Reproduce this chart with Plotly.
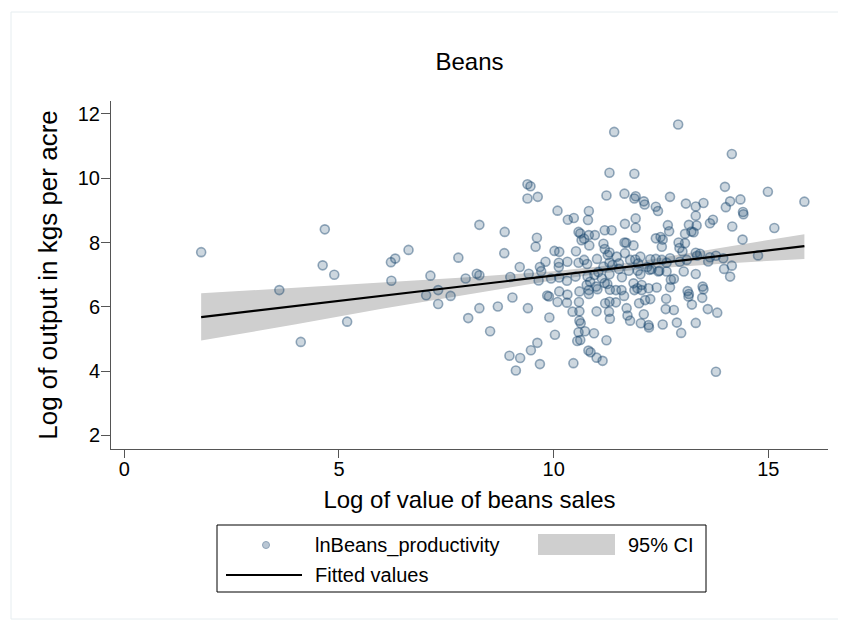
import plotly.graph_objects as go

# ---------------- data ----------------
x_vals = [
    1.79, 3.61, 4.11, 4.67, 4.62, 4.89, 5.19, 6.21, 6.31, 6.22, 6.62, 7.13, 7.03, 7.31, 7.31, 7.60,
    7.78, 7.95, 8.01, 8.21, 8.27, 8.27, 8.27,
    12.90, 11.41, 14.15, 11.30, 11.88, 9.39, 9.46, 13.99, 14.99, 15.84, 9.39, 9.63, 11.23, 11.65,
    11.91, 11.88, 12.10, 12.12, 12.71, 12.38, 12.43, 13.08, 13.31, 13.49, 14.11, 14.01, 14.35, 14.41,
    14.42, 10.09, 10.82, 10.33, 10.47, 10.80, 11.91, 8.86, 11.66, 11.91, 12.66, 13.31, 13.71, 13.64,
    13.15, 13.33, 14.16, 15.14, 10.58, 10.62, 11.19, 11.35, 9.61, 10.71, 10.96, 10.82, 12.69, 12.38,
    12.49, 12.54, 13.06, 13.26, 13.21, 14.40, 9.58, 8.85, 10.65, 11.16, 11.19, 11.30, 11.26, 11.65,
    11.69, 11.86, 10.83, 12.52, 12.91, 13.06, 13.00, 12.93, 10.02, 10.13, 10.52, 13.31, 13.34, 13.64,
    13.78, 14.76, 9.21, 9.81, 9.68, 9.71, 10.12, 10.12, 10.32, 10.58, 10.71, 10.78, 11.01, 11.30,
    11.37, 11.78, 11.90, 12.02, 12.25, 12.38, 12.52, 12.63, 12.18, 12.28, 12.46, 13.03, 13.31, 13.97,
    14.15, 14.11, 8.99, 9.42, 9.65, 9.94, 10.13, 10.31, 10.51, 10.79, 10.95, 11.19, 11.30, 11.52,
    11.75, 11.96, 12.02, 12.23, 12.44, 12.73, 12.80, 12.71, 9.04, 8.70, 9.40, 8.52, 9.90, 10.03,
    9.62, 9.47, 8.97, 9.22, 9.12, 9.68, 10.46, 10.62, 10.55, 10.94, 11.23, 10.81, 10.86, 11.00,
    11.14, 10.09, 10.13, 10.32, 9.85, 9.89, 10.31, 10.59, 10.60, 10.60, 10.60, 10.63, 10.58, 10.73,
    10.82, 10.82, 11.02, 10.99, 11.00, 11.20, 11.30, 11.45, 11.29, 11.31, 11.25, 11.45, 11.58, 11.70,
    11.72, 11.78, 12.03, 12.10, 12.21, 12.22, 11.64, 11.86, 11.88, 11.95, 12.05, 12.13, 12.25, 11.99,
    12.40, 12.62, 12.61, 12.80, 12.54, 12.87, 12.97, 13.31, 13.12, 13.15, 13.14, 13.22, 13.47, 13.49,
    13.46, 13.59, 13.81, 13.78, 10.44,
    10.77, 11.31, 12.05, 12.21, 11.04, 11.12, 10.85, 11.59, 11.52, 11.16, 11.66, 11.97, 12.63,
    11.47, 12.71, 12.94, 13.10, 13.95, 13.60, 13.41,
]
y_vals = [
    7.70, 6.52, 4.91, 8.41, 7.29, 7.00, 5.54, 7.39, 7.50, 6.81, 7.77, 6.97, 6.36, 6.52, 6.09, 6.34,
    7.53, 6.88, 5.65, 7.03, 6.98, 8.55, 5.96,
    11.67, 11.44, 10.75, 10.17, 10.14, 9.81, 9.75, 9.73, 9.58, 9.27, 9.37, 9.42, 9.46, 9.52,
    9.44, 9.37, 9.28, 9.18, 9.42, 9.11, 8.98, 9.21, 9.12, 9.23, 9.28, 9.10, 9.34, 8.95,
    8.88, 8.99, 8.98, 8.71, 8.76, 8.70, 8.75, 8.33, 8.58, 8.46, 8.54, 8.83, 8.71, 8.60,
    8.55, 8.53, 8.50, 8.45, 8.33, 8.28, 8.38, 8.38, 8.15, 8.12, 8.23, 8.23, 8.35, 8.13,
    8.17, 8.09, 8.27, 8.32, 8.34, 8.09, 7.87, 7.67, 8.07, 7.96, 7.80, 7.69, 7.61, 8.00,
    7.99, 7.91, 7.91, 7.87, 8.00, 7.98, 7.72, 7.83, 7.74, 7.71, 7.73, 7.68, 7.59, 7.54,
    7.59, 7.60, 7.24, 7.40, 7.24, 7.11, 7.37, 7.24, 7.40, 7.37, 7.46, 7.33, 7.49, 7.37,
    7.30, 7.46, 7.47, 7.56, 7.48, 7.49, 7.46, 7.37, 7.24, 7.17, 7.12, 7.10, 7.02, 7.18,
    7.28, 6.94, 6.93, 7.03, 6.82, 6.88, 6.91, 6.81, 6.94, 6.94, 6.99, 6.74, 7.01, 7.18,
    7.12, 7.12, 7.01, 7.15, 7.10, 6.84, 6.87, 6.61, 6.29, 6.01, 5.96, 5.24, 5.67, 5.13,
    4.88, 4.65, 4.48, 4.41, 4.02, 4.22, 4.25, 4.97, 4.94, 5.18, 4.96, 4.64, 4.59, 4.42,
    4.32, 6.15, 6.48, 6.38, 6.35, 6.32, 6.13, 6.15, 6.48, 5.86, 5.57, 5.49, 5.21, 5.24,
    6.40, 6.52, 6.55, 6.63, 5.86, 6.11, 6.16, 6.14, 5.85, 5.63, 6.71, 6.52, 6.52, 5.96,
    5.73, 5.57, 5.49, 5.77, 5.43, 5.36, 6.34, 6.73, 6.52, 6.58, 6.52, 6.21, 6.24, 6.11,
    6.60, 6.25, 5.93, 5.90, 5.45, 5.51, 5.19, 5.50, 6.49, 6.40, 6.32, 6.07, 6.63, 6.55,
    6.28, 5.93, 5.82, 3.98, 5.85,
    6.68, 6.53, 6.68, 6.58, 7.08, 6.89, 6.78, 6.92, 7.35, 7.25, 7.67, 7.35, 7.10,
    7.56, 7.51, 7.40, 7.46, 7.51, 7.41, 7.65,
]

fit_x = [1.79, 15.84]
fit_y = [5.68, 7.89]

ci_x = [1.79, 4.0, 6.0, 8.0, 10.0, 11.1, 12.0, 14.0, 15.84]
ci_hi = [6.42, 6.59, 6.76, 6.92, 7.11, 7.26, 7.418, 7.85, 8.26]
ci_lo = [4.95, 5.46, 5.94, 6.39, 6.83, 7.04, 7.158, 7.35, 7.49]

x_ticks = [0, 5, 10, 15]
y_ticks = [2, 4, 6, 8, 10, 12]

title_text = "Beans"
x_title = "Log of value of beans sales"
y_title = "Log of output in kgs per acre"
legend_labels = ["lnBeans_productivity", "95% CI", "Fitted values"]

# ---------------- figure ----------------
OFF = 8                      # page body margin
W, H = 846, 621
L, R, T, B = 111 - OFF, 828 - OFF, 101 - OFF, 449 - OFF   # plot area in figure px
FONT = "Liberation Sans, Arial, Helvetica, sans-serif"

def px(xp):  # page x -> paper
    return (xp - OFF - L) / (R - L)

def py(yp):  # page y -> paper
    return (B - (yp - OFF)) / (B - T)

fig = go.Figure()

fig.add_trace(go.Scatter(
    x=ci_x + ci_x[::-1], y=ci_hi + ci_lo[::-1],
    fill="toself", fillcolor="#cfcfcf", line=dict(width=0),
    mode="lines", hoverinfo="skip", showlegend=False,
))

fig.add_trace(go.Scatter(
    x=x_vals, y=y_vals, mode="markers",
    marker=dict(size=9, color="rgba(26,71,111,0.22)",
                line=dict(color="rgba(26,71,111,0.45)", width=1.6)),
    showlegend=False,
))

fig.add_trace(go.Scatter(
    x=fit_x, y=fit_y, mode="lines",
    line=dict(color="black", width=2.2), showlegend=False,
))

axis_common = dict(
    showgrid=False, zeroline=False, showline=True, linecolor="#555555", linewidth=1,
    ticks="outside", tickcolor="#555555", tickwidth=1,
    tickfont=dict(family=FONT, size=20, color="black"),
)

fig.update_layout(
    width=W, height=H,
    margin=dict(l=L, r=W - R, t=T, b=H - B),
    paper_bgcolor="white", plot_bgcolor="white",
    font=dict(family=FONT, color="black"),
    title=dict(text=title_text, x=(L + R) / 2 / W, xanchor="center",
               y=1 - (62 - OFF) / H, yanchor="middle",
               font=dict(family=FONT, size=24, color="black")),
    xaxis=dict(range=[-0.31, 16.39], tickvals=x_ticks, ticklen=8, ticklabelstandoff=-6,
               title=dict(text=x_title, font=dict(family=FONT, size=24, color="black"), standoff=12),
               **axis_common),
    yaxis=dict(range=[1.58, 12.40], tickvals=y_ticks, ticklen=9, ticklabelstandoff=-3,
               title=dict(text=y_title, font=dict(family=FONT, size=26, color="black"), standoff=12),
               **axis_common),
    showlegend=False,
)

shapes = []
# faint outer frame (top, bottom and left edges)
for yy in (12, 619):
    shapes.append(dict(type="line", xref="paper", yref="paper",
                       x0=px(11), x1=px(900), y0=py(yy), y1=py(yy),
                       line=dict(color="#e6edf0", width=1), layer="below"))
shapes.append(dict(type="line", xref="paper", yref="paper",
                   x0=px(11), x1=px(11), y0=py(619), y1=py(12),
                   line=dict(color="#e6edf0", width=1), layer="below"))
# legend box
shapes.append(dict(type="rect", xref="paper", yref="paper",
                   x0=px(217), x1=px(706), y0=py(592), y1=py(525),
                   line=dict(color="black", width=1), fillcolor="white"))
# legend marker
shapes.append(dict(type="circle", xref="paper", yref="paper",
                   x0=px(262.5), x1=px(269.5), y0=py(548.5), y1=py(541.5),
                   line=dict(color="#8ea3b8", width=1), fillcolor="#bac7d4"))
# legend CI swatch
shapes.append(dict(type="rect", xref="paper", yref="paper",
                   x0=px(538), x1=px(615), y0=py(555), y1=py(534),
                   line=dict(width=0), fillcolor="#cfcfcf"))
# legend fitted line
shapes.append(dict(type="line", xref="paper", yref="paper",
                   x0=px(226), x1=px(302), y0=py(575), y1=py(575),
                   line=dict(color="black", width=2)))
fig.update_layout(shapes=shapes)

ann_font = dict(family=FONT, size=20, color="black")
fig.add_annotation(text=legend_labels[0], xref="paper", yref="paper", x=px(313), y=py(545),
                   xanchor="left", yanchor="middle", showarrow=False, font=ann_font)
fig.add_annotation(text=legend_labels[1], xref="paper", yref="paper", x=px(626), y=py(545),
                   xanchor="left", yanchor="middle", showarrow=False, font=ann_font)
fig.add_annotation(text=legend_labels[2], xref="paper", yref="paper", x=px(313), y=py(575),
                   xanchor="left", yanchor="middle", showarrow=False, font=ann_font)

fig.write_html("out.html")
